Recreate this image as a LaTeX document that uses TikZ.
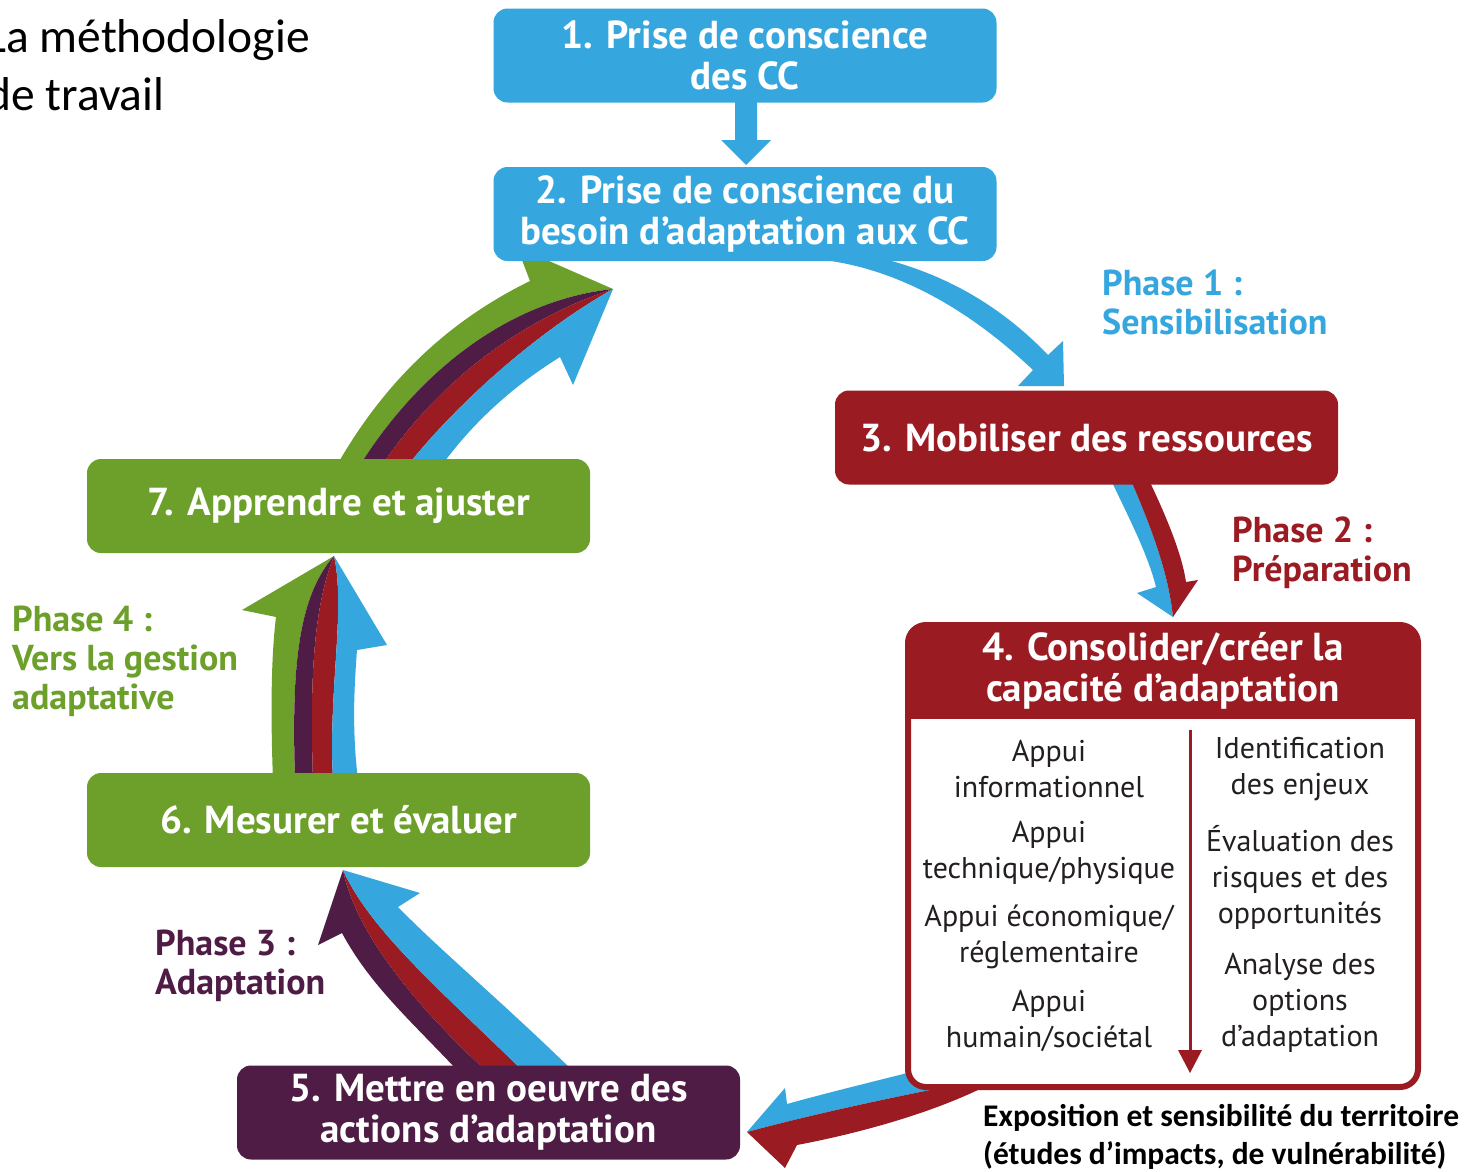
\documentclass[tikz,border=0pt]{standalone}
\usepackage{fontspec}
\setmainfont{PT Sans}
\newfontfamily\calib{Carlito}
\definecolor{ccblue}{HTML}{35A7DE}
\definecolor{ccred}{HTML}{9B1B22}
\definecolor{ccpurple}{HTML}{4E1C45}
\definecolor{ccgreen}{HTML}{6CA02A}
\definecolor{cctext}{HTML}{231F20}
\tikzset{
  box/.style={rectangle, rounded corners=14pt, minimum width=503pt, minimum height=94pt,
    inner sep=0pt, text=white, align=center, font=\bfseries\fontsize{39}{41}\selectfont},
  phase/.style={anchor=west, inner sep=0pt, align=left, font=\bfseries\fontsize{36}{39}\selectfont},
  body/.style={inner sep=0pt, align=center, text=cctext, font=\fontsize{30}{36}\selectfont},
  corner/.style={inner sep=0pt, anchor=base west, text=black}
}
\begin{document}
\begin{tikzpicture}[x=1pt,y=-1pt]
\useasboundingbox (0,0) rectangle (1473,1171);
\clip (0,0) rectangle (1473,1171);
\fill[white] (0,0) rectangle (1473,1171);

% title (cropped at the left)
\node[corner, font=\calib\fontsize{47.5}{58}\selectfont] (t1) at (-14,52) {La méthodologie};
\node[corner, font=\calib\fontsize{47.5}{58}\selectfont] (t2) at (-14,110) {de travail};

% arrow 1 -> 2
\fill[ccblue] (735,98) -- (757,98) -- (757,140) -- (771,140) -- (746,165) -- (721,140) -- (735,140) -- cycle;

% arrow 2 -> 3
\fill[ccblue] (800,258) .. controls (900,262) and (980,320) .. (1033,370) -- (1018,386) -- (1064,386) -- (1063,341) -- (1048,355) .. controls (1005,310) and (950,275) .. (880,258) -- cycle;

% arrow 3 -> 4
\fill[ccblue] (1110,478) .. controls (1130,520) and (1148,555) .. (1156,587) -- (1137,593) -- (1173,617) .. controls (1168,570) and (1150,525) .. (1130,478) -- cycle;
\fill[ccred] (1130,478) .. controls (1150,525) and (1168,570) .. (1173,617) -- (1198,580) -- (1186,582) .. controls (1182,555) and (1168,520) .. (1148,478) -- cycle;

% arrow 4 -> 5
\fill[ccblue] (935,1066) .. controls (880,1080) and (830,1092) .. (787,1104) -- (785,1088) -- (747,1132) .. controls (810,1115) and (880,1100) .. (940,1088) -- cycle;
\fill[ccred] (940,1088) .. controls (880,1100) and (810,1115) .. (747,1132) -- (785,1168) -- (797,1145) .. controls (850,1135) and (930,1115) .. (990,1084) -- (960,1080) -- cycle;

% arrow 5 -> 6
\fill[ccpurple] (457,1070) .. controls (410,1020) and (370,985) .. (342,933) -- (318,945) -- (343,870) .. controls (355,930) and (410,1000) .. (485,1070) -- cycle;
\fill[ccred] (485,1070) .. controls (410,1000) and (355,930) .. (343,870) .. controls (370,930) and (440,990) .. (522,1070) -- cycle;
\fill[ccblue] (522,1070) .. controls (440,990) and (370,930) .. (343,870) -- (420,893) -- (398,907) .. controls (440,950) and (500,1000) .. (572,1070) -- cycle;

% arrow 6 -> 7
\fill[ccgreen] (273,780) .. controls (270,700) and (272,650) .. (276,617) -- (242,610) -- (334,556) .. controls (295,600) and (292,680) .. (295,780) -- cycle;
\fill[ccpurple] (295,780) .. controls (292,680) and (295,600) .. (334,556) .. controls (312,610) and (310,690) .. (313,780) -- cycle;
\fill[ccred] (313,780) .. controls (310,690) and (312,610) .. (334,556) .. controls (346,610) and (328,690) .. (333,780) -- cycle;
\fill[ccblue] (333,780) .. controls (328,690) and (346,610) .. (334,556) -- (387,645) -- (357,650) .. controls (354,690) and (352,730) .. (358,780) -- cycle;

% arrow 7 -> 2
\fill[ccgreen] (337,465) .. controls (380,390) and (440,325) .. (530,281) -- (517,247) -- (613,289) .. controls (510,300) and (420,370) .. (360,465) -- cycle;
\fill[ccpurple] (360,465) .. controls (420,370) and (510,300) .. (613,289) .. controls (520,320) and (440,380) .. (382,465) -- cycle;
\fill[ccred] (382,465) .. controls (440,380) and (520,320) .. (613,289) .. controls (540,330) and (460,400) .. (408,465) -- cycle;
\fill[ccblue] (408,465) .. controls (460,400) and (540,330) .. (613,289) -- (573,385) -- (560,357) .. controls (515,385) and (475,420) .. (442,465) -- cycle;

% boxes
\node[box, fill=ccblue] (b1) at (745,55.5) {1. Prise de conscience\\des CC};
\node[box, fill=ccblue] (b2) at (745,214) {2. Prise de conscience du\\besoin d’adaptation aux CC};
\node[box, fill=ccred] (b3) at (1086.5,437.5) {3. Mobiliser des ressources};
\node[box, fill=ccpurple] (b5) at (488.5,1112.5) {5. Mettre en oeuvre des\\actions d’adaptation};
\node[box, fill=ccgreen] (b6) at (338.5,820) {6. Mesurer et évaluer};
\node[box, fill=ccgreen] (b7) at (338.5,506) {7. Apprendre et ajuster};

% box 4
\node[rectangle, rounded corners=18pt, draw=ccred, line width=6pt, fill=white,
  minimum width=510pt, minimum height=462pt, inner sep=0pt] (b4) at (1163,856) {};
\begin{scope}
  \clip (900,600) rectangle (1430,718);
  \fill[ccred, rounded corners=18pt] (908,625) rectangle (1418,1087);
\end{scope}
\node[box, minimum width=0pt, minimum height=0pt] (b4t) at (1163,671) {4. Consolider/créer la\\capacité d’adaptation};
\coordinate (vtop) at (1190,730);
\coordinate (vbot) at (1190,1073);
\draw[ccred, line width=3pt] (vtop) -- (1190,1050);
\fill[ccred] (1178,1050) -- (1202,1050) -- (vbot) -- cycle;

\node[body] (l1) at (1049,769) {Appui\\informationnel};
\node[body] (l2) at (1049,853) {Appui\\technique/physique};
\node[body] (l3) at (1049,937) {Appui économique/\\réglementaire};
\node[body] (l4) at (1049,1021) {Appui\\humain/sociétal};
\node[body] (r1) at (1300,769) {Identification\\des enjeux};
\node[body] (r2) at (1300,877) {Évaluation des\\risques et des\\opportunités};
\node[body] (r3) at (1300,1003) {Analyse des\\options\\d’adaptation};

% phases
\node[phase, text=ccblue] (p1) at (1102,302.5) {Phase 1 :\\Sensibilisation};
\node[phase, text=ccred] (p2) at (1232,552.5) {Phase 2 :\\Préparation};
\node[phase, text=ccpurple] (p3) at (155,966) {Phase 3 :\\Adaptation};
\node[phase, text=ccgreen] (p4) at (12,661) {Phase 4 :\\Vers la gestion\\adaptative};

% bottom note
\node[corner, font=\calib\bfseries\fontsize{31.5}{38}\selectfont] (n1) at (983,1126) {Exposition et sensibilité du territoire};
\node[corner, font=\calib\bfseries\fontsize{31.5}{38}\selectfont] (n2) at (983,1164) {(études d’impacts, de vulnérabilité)};
\end{tikzpicture}
\end{document}
